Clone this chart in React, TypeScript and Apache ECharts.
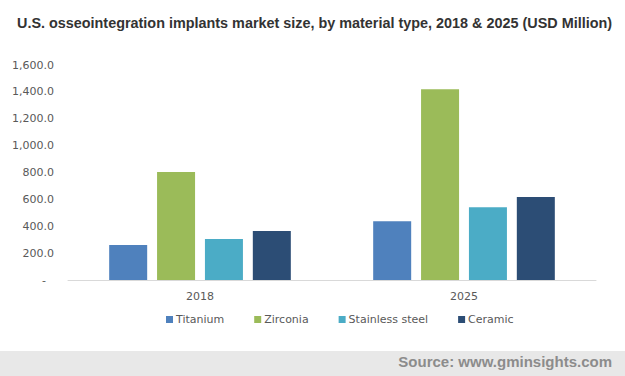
import React, { useEffect, useRef } from "react";
import * as echarts from "echarts";

const categories = ["2018", "2025"];
const seriesNames = ["Titanium", "Zirconia", "Stainless steel", "Ceramic"];
const titanium = [260, 438];
const zirconia = [803, 1419];
const stainless = [305, 542];
const ceramic = [364, 617];
const colors = ["#4f81bd", "#9bbb59", "#4bacc6", "#2c4d75"];

export default function App() {
  const ref = useRef<HTMLDivElement>(null);
  useEffect(() => {
    if (!ref.current) return;
    const chart = echarts.init(ref.current, undefined, { renderer: "svg" });
    const values = [titanium, zirconia, stainless, ceramic];
    chart.setOption({
      animation: false,
      backgroundColor: "#ffffff",
      title: {
        text: "U.S. osseointegration implants market size, by material type, 2018 & 2025 (USD Million)",
        left: 12,
        top: 11,
        textStyle: {
          fontFamily: "Liberation Sans, Arial, sans-serif",
          fontSize: 14.4,
          fontWeight: "bold",
          color: "#333333",
        },
      },
      legend: {
        data: seriesNames,
        bottom: 46,
        left: 161,
        itemWidth: 7,
        itemHeight: 7,
        itemGap: 30,
        icon: "rect",
        textStyle: {
          fontFamily: "DejaVu Sans, Verdana, sans-serif",
          fontSize: 11,
          color: "#595959",
          padding: [0, 0, 0, -2],
        },
      },
      grid: { left: 68, right: 29, top: 65, bottom: 96 },
      xAxis: {
        type: "category",
        data: categories,
        axisTick: { show: false },
        axisLine: { lineStyle: { color: "#d9d9d9", width: 1 } },
        axisLabel: {
          margin: 11,
          fontFamily: "DejaVu Sans, Verdana, sans-serif",
          fontSize: 11,
          color: "#595959",
        },
      },
      yAxis: {
        type: "value",
        min: 0,
        max: 1600,
        interval: 200,
        splitLine: { show: false },
        axisLine: { show: false },
        axisTick: { show: false },
        axisLabel: {
          margin: 14,
          fontFamily: "DejaVu Sans, Verdana, sans-serif",
          fontSize: 11,
          color: "#595959",
          formatter: (v: number) =>
            v === 0
              ? "{z|-}"
              : v.toLocaleString("en-US", { minimumFractionDigits: 1, maximumFractionDigits: 1 }),
          rich: { z: { padding: [0, 8, 0, 0], fontSize: 11, color: "#595959" } },
        },
      },
      series: seriesNames.map((name, i) => ({
        name,
        type: "bar",
        data: values[i],
        barWidth: 38,
        barGap: "26%",
        itemStyle: { color: colors[i] },
      })),
      graphic: [
        {
          type: "rect",
          left: 0,
          top: 351,
          shape: { width: 625, height: 25 },
          style: { fill: "#e8e8e8" },
        },
        {
          type: "text",
          right: 13,
          top: 354,
          style: {
            text: "Source: www.gminsights.com",
            fill: "#8c8c8c",
            font: "bold 15px 'Liberation Sans', Arial, sans-serif",
          },
        },
      ],
    });
    return () => chart.dispose();
  }, []);
  return (
    <div
      ref={ref}
      style={{ position: "absolute", left: 0, top: 0, width: 625, height: 376 }}
    />
  );
}
